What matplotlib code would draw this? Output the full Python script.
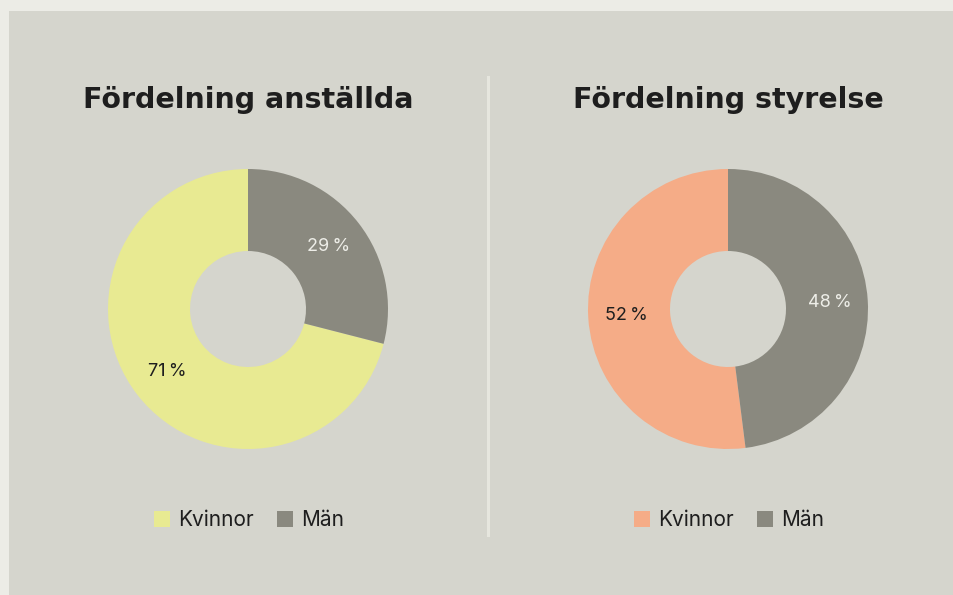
import matplotlib

matplotlib.use("Agg")
import matplotlib.pyplot as plt
from matplotlib.patches import Patch, Rectangle

# Data
categories = ["Kvinnor", "Män"]
anstallda = [71, 29]
styrelse = [52, 48]
titles = ["Fördelning anställda", "Fördelning styrelse"]

BG_OUTER = "#ECECE6"
BG_PANEL = "#D5D5CD"
GRAY = "#8A897F"
YELLOW = "#E8EA92"
SALMON = "#F5AC87"
DARK = "#1E1E1E"
LIGHT = "#EEEEE8"

plt.rcParams["font.family"] = ["Inter", "DejaVu Sans"]

W, H = 954, 595
fig = plt.figure(figsize=(W / 100, H / 100), dpi=100, facecolor=BG_OUTER)

# Panel background and divider
fig.add_artist(
    Rectangle((9 / W, 0), 1 - 9 / W, 1 - 11 / H, transform=fig.transFigure,
              facecolor=BG_PANEL, edgecolor="none", zorder=-10)
)
fig.add_artist(
    plt.Line2D([488 / W, 488 / W], [1 - 535 / H, 1 - 77 / H],
               transform=fig.transFigure, color="#E6E6DE", lw=2.2, zorder=-5)
)


def draw_donut(cx, values, colors, title, text_colors):
    cy, r = 309, 140
    ax = fig.add_axes([(cx - r) / W, (H - cy - r) / H, 2 * r / W, 2 * r / H])
    ax.set_facecolor("none")
    wedges, _, autotexts = ax.pie(
        values,
        colors=colors,
        startangle=90,
        radius=1,
        wedgeprops=dict(width=1 - 58 / 140, edgecolor="none"),
        autopct=lambda p: f"{p:.0f}\u2009%",
        pctdistance=0.73,
        textprops=dict(fontsize=13),
    )
    for t, c in zip(autotexts, text_colors):
        t.set_color(c)
    ax.set_xlim(-1, 1)
    ax.set_ylim(-1, 1)
    ax.set_aspect("equal")
    ax.axis("off")

    fig.text(cx / W, 1 - 100 / H, title, ha="center", va="center",
             fontsize=20.5, fontweight="bold", color=DARK,
             family=["DejaVu Sans"])

    handles = [Patch(facecolor=c, edgecolor="none") for c in colors]
    fig.legend(
        handles, categories,
        loc="center", bbox_to_anchor=(cx / W + 1 / W, 1 - 520 / H),
        ncol=2, frameon=False, fontsize=15, labelcolor=DARK,
        handlelength=0.78, handleheight=0.78, handletextpad=0.4,
        columnspacing=1.1,
    )


draw_donut(248, anstallda, [YELLOW, GRAY], titles[0], [DARK, LIGHT])
draw_donut(728, styrelse, [SALMON, GRAY], titles[1], [DARK, LIGHT])

fig.savefig("out.png", dpi=100, facecolor=BG_OUTER)
